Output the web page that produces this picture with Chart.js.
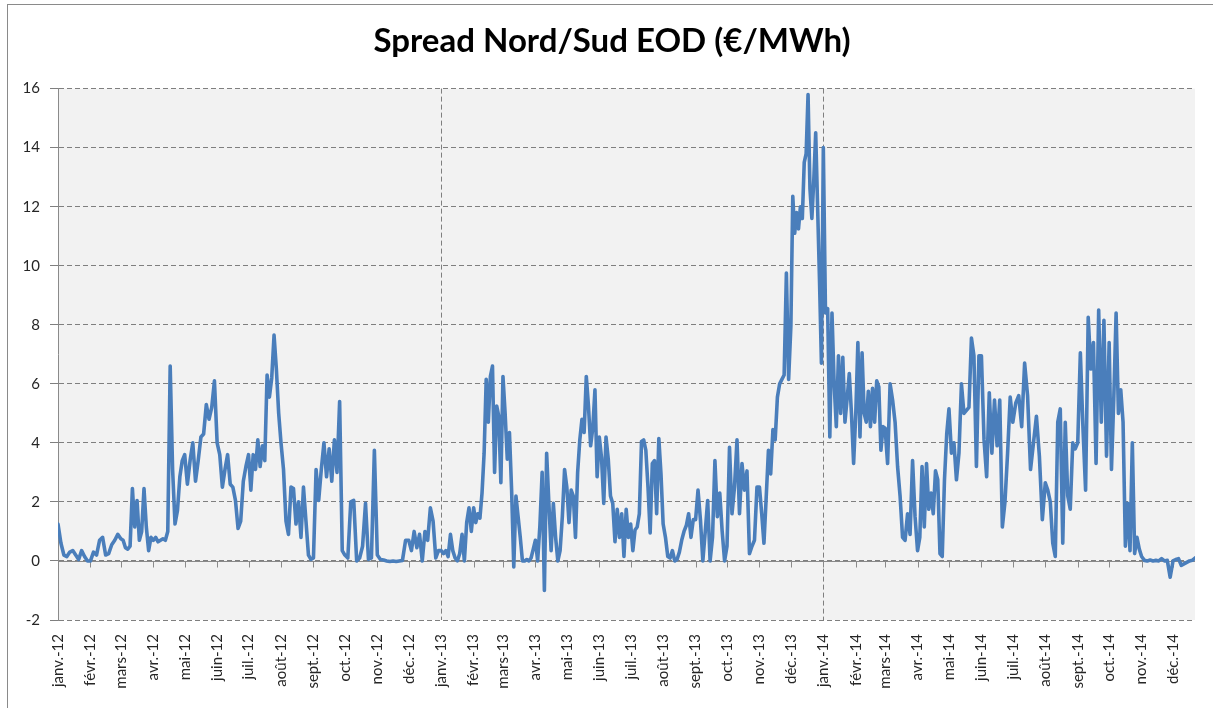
<!DOCTYPE html>
<html lang="fr">
<head>
<meta charset="utf-8">
<title>Spread Nord/Sud EOD</title>
<script src="https://cdn.jsdelivr.net/npm/chart.js@4.4.1/dist/chart.umd.min.js"></script>
<style>
  html, body { margin: 0; padding: 0; background: #fff; overflow: hidden; }
  #frame { position: absolute; left: 7px; top: 4px; width: 1300px; height: 800px;
           border-left: 1px solid #8a8a8a; border-top: 1px solid #8a8a8a; }
  #wrap { position: absolute; left: 0; top: 0; width: 1213px; height: 708px; }
</style>
</head>
<body>
<div id="frame"></div>
<div id="wrap"><canvas id="spreadChart"></canvas></div>
<script>
// valeurs, une liste par mois (réparties sur le mois)
const years = [2012, 2013, 2014];
const monthNames = ['janv.', 'févr.', 'mars', 'avr.', 'mai', 'juin', 'juil.', 'août', 'sept.', 'oct.', 'nov.', 'déc.'];

const spread2012 = [
    [1.25, 0.6, 0.2, 0.15, 0.3, 0.35, 0.2, 0.05, 0.35, 0.15, 0.0],
    [0.0, 0.3, 0.2, 0.7, 0.8, 0.2, 0.25, 0.55, 0.7, 0.9],
    [0.75, 0.7, 0.45, 0.4, 0.5, 2.45, 1.15, 2.05, 0.7, 1.0, 2.45, 1.15, 0.35, 0.8],
    [0.7, 0.8, 0.65, 0.7, 0.75, 0.7, 1.0, 6.6, 3.1, 1.25, 1.7, 2.85, 3.4],
    [3.6, 2.6, 3.4, 4.0, 2.7, 3.4, 4.2, 4.3, 5.3, 4.8, 5.2, 6.1],
    [4.0, 3.6, 2.5, 3.1, 3.6, 2.6, 2.5, 2.05, 1.1, 1.35, 2.7, 3.2],
    [3.6, 2.4, 3.6, 3.1, 4.1, 3.2, 3.9, 3.4, 6.3, 5.55, 6.2, 7.65, 6.5, 5.0],
    [4.0, 3.1, 1.35, 0.9, 2.5, 2.45, 1.25, 2.0, 0.8, 2.5, 1.35, 0.2, 0.05],
    [0.1, 3.1, 2.05, 3.1, 4.0, 2.85, 3.8, 2.7, 4.1, 3.0, 5.4, 0.35],
    [0.2, 0.1, 2.0, 2.05, 0.0, 0.1, 0.5, 1.95, 0.05, 0.1, 3.75],
    [0.2, 0.05, 0.03, 0.0, -0.02, 0.0, -0.02, 0.0, 0.02, 0.7],
    [0.7, 0.35, 1.0, 0.45, 0.9, 0.0, 1.0, 0.7, 1.8, 1.35, 0.1, 0.35]
];
const spread2013 = [
    [0.35, 0.25, 0.35, 0.15, 0.9, 0.35, 0.1, 0.0, 0.25, 0.9, 0.0, 1.3, 1.8, 1.0],
    [1.8, 1.3, 1.6, 1.45, 2.3, 3.65, 6.15, 4.7, 6.25, 6.6, 3.0, 5.25, 4.9, 2.65],
    [6.25, 5.0, 3.45, 4.35, 2.4, -0.2, 2.2, 1.5, 0.8, 0.0, 0.0, 0.05, 0.0, 0.1, 0.4],
    [0.7, 0.0, 1.2, 3.0, -1.0, 3.65, 1.95, 0.35, 1.95, 0.8, 0.0, 0.35, 1.5, 3.1],
    [2.5, 1.3, 2.4, 2.2, 0.8, 3.0, 4.1, 4.8, 4.35, 6.25, 5.25, 3.9, 4.5, 5.8, 2.85],
    [4.2, 3.5, 1.95, 4.2, 3.45, 2.2, 1.95, 0.65, 1.75, 0.8, 1.6, 0.15, 1.75, 0.8],
    [1.25, 0.35, 1.05, 1.15, 1.6, 4.05, 4.1, 3.75, 2.5, 0.95, 3.3, 3.4, 1.6, 4.15, 2.95],
    [1.25, 0.8, 0.15, 0.1, 0.35, 0.0, 0.05, 0.3, 0.7, 1.0, 1.2, 1.6, 0.8, 1.4],
    [1.4, 2.4, 1.4, 0.0, 1.0, 2.05, 0.0, 0.8, 3.4, 1.5, 2.3, 1.0, 0.0],
    [0.5, 3.85, 1.6, 2.5, 4.1, 1.6, 3.3, 2.4, 3.05, 0.25, 0.5, 0.7, 2.5],
    [2.5, 1.6, 0.6, 2.15, 3.75, 2.95, 4.45, 4.1, 5.55, 6.0, 6.15, 6.3, 9.75, 6.15],
    [7.95, 12.35, 11.1, 11.8, 11.25, 12.0, 11.6, 13.5, 13.8, 15.8, 12.6, 11.6, 12.9, 14.5, 12.0, 9.5, 6.7]
];
const spread2014 = [
    [14.0, 8.4, 8.55, 4.2, 8.4, 6.0, 4.55, 6.95, 5.0, 6.9, 4.7, 5.5, 6.35, 5.0, 3.3],
    [5.0, 7.4, 4.2, 7.05, 5.0, 4.7, 5.75, 4.55, 5.85, 4.7, 6.1, 5.9, 3.75, 4.55],
    [4.5, 3.3, 6.0, 5.45, 4.7, 3.2, 2.2, 0.8, 0.7, 1.6, 0.9, 3.4, 1.5],
    [0.35, 0.8, 3.2, 1.15, 3.3, 1.75, 2.3, 1.6, 3.05, 2.75, 0.25, 0.15, 2.75, 4.3],
    [5.15, 3.65, 4.0, 2.75, 3.65, 6.0, 5.0, 5.1, 5.2, 7.55, 6.95, 3.2, 6.95],
    [6.95, 4.1, 2.85, 5.7, 3.65, 5.45, 3.9, 5.45, 1.15, 2.0, 3.65, 5.55],
    [4.7, 5.35, 5.6, 4.55, 6.7, 5.6, 3.1, 4.0, 4.9, 3.55, 1.4],
    [2.65, 2.4, 2.0, 0.6, 0.15, 4.7, 5.15, 0.6, 4.7, 2.2, 1.75, 4.0, 3.8],
    [4.0, 7.05, 4.5, 2.4, 8.25, 6.5, 7.4, 3.3, 8.5, 4.7, 8.15, 3.55],
    [7.4, 3.1, 5.5, 8.4, 5.0, 5.8, 4.7, 0.5, 1.95, 0.35, 4.0, 0.25, 0.8, 0.4],
    [0.15, 0.02, 0.0, 0.03, 0.0, 0.02, 0.0, 0.08, 0.0, 0.02, -0.55],
    [0.0, 0.05, 0.08, -0.15, -0.1, -0.05, 0.0, 0.02, 0.1]
];
const spreadByYear = [spread2012, spread2013, spread2014];
const lastDay = 1086;   // dernière cotation : 22 déc. 2014

const yTicks = { min: -2, max: 16, step: 2 };

// jours depuis le 1er janvier 2012
function dayOf(year, month) {
    return (Date.UTC(year, month, 1) - Date.UTC(2012, 0, 1)) / 86400000;
}

const monthLabels = [];
const monthStarts = [];
years.forEach(y => {
    monthNames.forEach((m, i) => {
        monthLabels.push(m + '-' + String(y).slice(2));
        monthStarts.push(dayOf(y, i));
    });
});
const yearStarts = years.slice(1).map(y => dayOf(y, 0));

let points = [];
years.forEach((yr, yi) => {
    spreadByYear[yi].forEach((vals, m) => {
        const start = dayOf(yr, m);
        const span = dayOf(yr, m + 1) - start;
        const isLast = yi === years.length - 1 && m === 11;
        vals.forEach((v, i) => {
            const x = isLast ? start + i * (lastDay - start) / (vals.length - 1) : start + i * span / vals.length;
            points.push({ x: x, y: v });
        });
    });
});

// fond gris de la zone de tracé, axe horizontal à zéro et ses graduations
const excelFrame = {
    id: 'excelFrame',
    beforeDraw(chart) {
        const a = chart.chartArea;
        const c = chart.ctx;
        c.save();
        c.fillStyle = '#f2f2f2';
        c.fillRect(a.left, a.top, a.right - a.left, a.bottom - a.top);
        c.restore();
    },
    beforeDatasetsDraw(chart) {
        const a = chart.chartArea;
        const c = chart.ctx;
        const xs = chart.scales.x;
        const y0 = Math.round(chart.scales.y.getPixelForValue(0)) + 0.5;
        c.save();
        c.strokeStyle = '#8a8a8a';
        c.lineWidth = 1;
        c.beginPath();
        c.moveTo(a.left, y0);
        c.lineTo(a.right, y0);
        monthStarts.forEach(d => {
            const px = Math.round(xs.getPixelForValue(d)) + 0.5;
            c.moveTo(px, y0);
            c.lineTo(px, y0 + 6);
        });
        c.stroke();
        c.restore();
    }
};

Chart.defaults.font.family = 'Lato, "Open Sans", sans-serif';
Chart.defaults.color = '#262626';

const ctx = document.getElementById('spreadChart').getContext('2d');
const spreadChart = new Chart(ctx, {
    type: 'line',
    data: {
        datasets: [{
            label: 'Spread Nord/Sud EOD',
            data: points,
            borderColor: '#4a7ebb',
            backgroundColor: '#4a7ebb',
            borderWidth: 3.6,
            borderJoinStyle: 'round',
            borderCapStyle: 'round',
            pointRadius: 0,
            tension: 0
        }]
    },
    options: {
        responsive: true,
        maintainAspectRatio: false,
        animation: false,
        layout: { padding: { left: 11, right: 0, top: 0, bottom: 0 } },
        plugins: {
            legend: { display: false },
            tooltip: { enabled: false },
            title: {
                display: true,
                text: 'Spread Nord/Sud EOD (€/MWh)',
                color: '#000',
                font: { size: 33, weight: 'bold' },
                padding: { top: 22, bottom: 27 }
            }
        },
        scales: {
            x: {
                type: 'linear',
                min: 0,
                max: lastDay,
                afterBuildTicks: scale => {
                    scale.ticks = monthStarts.map(v => ({ value: v }));
                },
                afterFit: scale => { scale.height = 88; },
                ticks: {
                    autoSkip: false,
                    minRotation: 90,
                    maxRotation: 90,
                    padding: 14,
                    font: { size: 15 },
                    callback: (value, index) => monthLabels[index]
                },
                grid: {
                    drawTicks: false,
                    color: c => (c.tick && yearStarts.includes(c.tick.value)) ? '#7f7f7f' : 'rgba(0,0,0,0)'
                },
                border: { display: false, dash: [5, 3] }
            },
            y: {
                min: yTicks.min,
                max: yTicks.max,
                afterFit: scale => { scale.width = 47; },
                ticks: {
                    stepSize: yTicks.step,
                    padding: 10,
                    font: { size: 15 }
                },
                grid: {
                    color: '#7f7f7f',
                    tickLength: 8
                },
                border: { display: true, color: '#8a8a8a', width: 1, dash: [5, 3] }
            },
            // marge vide à droite de la zone de tracé
            yRight: {
                position: 'right',
                display: true,
                afterFit: scale => { scale.width = 18; },
                ticks: { display: false },
                grid: { display: false, drawOnChartArea: false },
                border: { display: false }
            }
        }
    },
    plugins: [excelFrame]
});
</script>
</body>
</html>
